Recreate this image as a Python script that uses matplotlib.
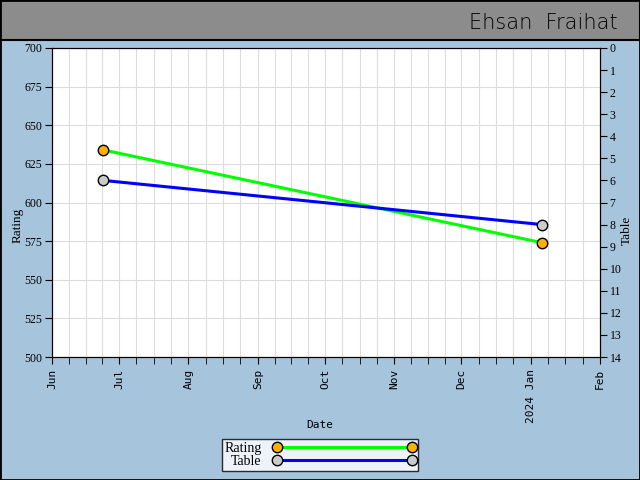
import datetime as dt
import matplotlib
matplotlib.use("Agg")
import matplotlib.pyplot as plt
import matplotlib.dates as mdates
from matplotlib.lines import Line2D
from matplotlib.patches import Rectangle

dates = [dt.date(2023, 6, 24), dt.date(2024, 1, 6)]
rating = [634, 574]
table = [6, 8]

month_starts = [dt.date(2023, m, 1) for m in range(6, 13)] + [dt.date(2024, 1, 1), dt.date(2024, 2, 1)]
month_labels = ["Jun", "Jul", "Aug", "Sep", "Oct", "Nov", "Dec", "2024 Jan", "Feb"]

plt.rcParams["font.family"] = ["Liberation Serif", "DejaVu Serif"]
bg = "#a7c4dd"

fig = plt.figure(figsize=(6.4, 4.8), dpi=100, facecolor=bg)
# header band
fig.patches.append(Rectangle((0, 440 / 480), 1, 40 / 480, transform=fig.transFigure,
                             facecolor="#8c8c8c", edgecolor="black", linewidth=1.5))
fig.patches.append(Rectangle((0, 0), 1, 1, transform=fig.transFigure,
                             facecolor="none", edgecolor="black", linewidth=2))
fig.text(0.965, 0.952, "Ehsan  Fraihat", ha="right", va="center", fontsize=15,
         family="DejaVu Sans", fontweight="light", color="black")

ax = fig.add_axes([52 / 640, 123 / 480, 548 / 640, 309 / 480])
ax.set_facecolor("white")

# minor ticks: each month split in four
minors = []
for a, b in zip(month_starts[:-1], month_starts[1:]):
    n = (b - a).days
    for k in range(1, 4):
        minors.append(mdates.date2num(a) + n * k / 4)

ax.set_xlim(mdates.date2num(month_starts[0]), mdates.date2num(month_starts[-1]))
ax.set_xticks([mdates.date2num(d) for d in month_starts])
ax.set_xticklabels(month_labels, rotation=90, fontsize=8, family="DejaVu Sans Mono")
ax.set_xticks(minors, minor=True)
ax.set_ylim(500, 700)
ax.set_yticks(range(500, 701, 25))
ax.tick_params(axis="y", labelsize=8.5, direction="out", length=5, pad=2)
ax.tick_params(axis="x", which="both", direction="out", length=5)
ax.grid(True, which="both", color="#dddddd", linewidth=0.8)
ax.set_axisbelow(True)
ax.set_ylabel("Rating", fontsize=9.5)
ax.yaxis.set_label_coords(-0.052, 0.427)
fig.text(320 / 640, 1 - 425 / 480, "Date", ha="center", va="center", fontsize=8,
         family="DejaVu Sans Mono")

ax2 = ax.twinx()
ax2.set_ylim(14, 0)
ax2.set_yticks(range(0, 15))
ax2.tick_params(axis="y", labelsize=8.5, direction="out", length=5, pad=2)
ax2.set_ylabel("Table", fontsize=9.5)
ax2.yaxis.set_label_coords(1.038, 0.411)

xd = [mdates.date2num(d) for d in dates]
ax.plot(xd, rating, color="#00ff00", linewidth=2.2, marker="o", markersize=7.5,
        markerfacecolor="#ffb000", markeredgecolor="black", markeredgewidth=1, zorder=3)
ax2.plot(xd, table, color="#0000ff", linewidth=2.2, marker="o", markersize=7.5,
         markerfacecolor="#cccccc", markeredgecolor="black", markeredgewidth=1, zorder=3)

handles = [
    Line2D([0], [0], color="#00ff00", linewidth=2.2, marker="o", markersize=7.5,
           markerfacecolor="#ffb000", markeredgecolor="black"),
    Line2D([0], [0], color="#0000ff", linewidth=2.2, marker="o", markersize=7.5,
           markerfacecolor="#cccccc", markeredgecolor="black"),
]
leg = fig.legend(handles, ["Rating", "Table"], loc="center", bbox_to_anchor=(320 / 640, 25 / 480),
                 numpoints=2, markerfirst=False, handlelength=10.3, fontsize=10,
                 frameon=True, fancybox=False, edgecolor="black", borderpad=0.2,
                 labelspacing=0.0, handletextpad=0.8, borderaxespad=0)
leg.get_frame().set_linewidth(1)

fig.savefig("out.png", dpi=100, facecolor=bg)
